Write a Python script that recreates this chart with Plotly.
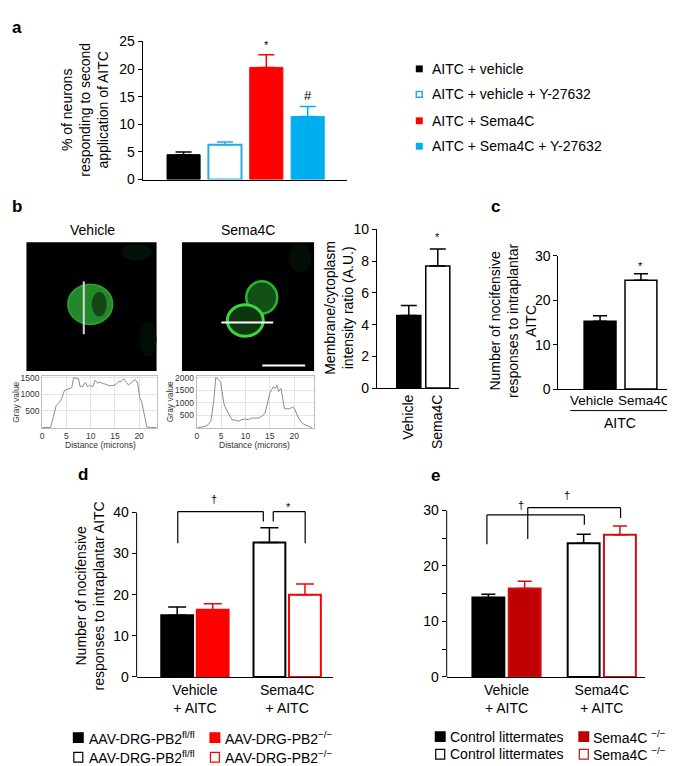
import plotly.graph_objects as go

W, H = 675, 766
FONT = "Liberation Sans, Arial, Helvetica, sans-serif"

# ---------------- data ----------------
# panel a
a_labels = ["AITC + vehicle", "AITC + vehicle + Y-27632", "AITC + Sema4C", "AITC + Sema4C + Y-27632"]
a_mean = [4.5, 6.3, 20.3, 11.4]
a_err = [0.5, 0.5, 2.3, 1.8]
a_fill = ["#000000", "#ffffff", "#ff0000", "#00aeef"]
a_edge = ["#000000", "#29abe2", "#ff0000", "#00aeef"]
a_sig = ["", "", "*", "#"]
a_sig_y = [0, 0, 24.4, 15.3]

# panel b
b_labels = ["Vehicle", "Sema4C"]
b_mean = [4.58, 7.7]
b_err = [0.62, 1.07]
b_sig_y = 9.55

prof_veh_x = [0, 1.7, 2.2, 2.9, 3.5, 3.9, 4.6, 5.1, 5.6, 6.1, 6.5, 7.0, 7.5, 7.8, 8.3, 8.9, 9.4, 9.8,
              10.4, 10.9, 11.4, 11.9, 12.5, 13.1, 13.8, 14.4, 15.1, 15.8, 16.3, 16.8, 17.3, 17.8,
              18.5, 19.2, 19.7, 20.1, 20.5, 21.1, 21.6, 22.6, 23.6]
prof_veh_y = [0, 0, 260, 670, 750, 830, 1117, 1140, 1157, 1198, 1500, 1483, 1467, 1239, 1222, 1361,
              1222, 1280, 1222, 1418, 1337, 1361, 1320, 1304, 1255, 1255, 1280, 1386, 1386, 1467,
              1361, 1280, 1361, 1443, 1337, 913, 790, 342, 16, 0, 0]
prof_sema_x = [0.2, 1.5, 2.2, 2.9, 3.5, 3.9, 4.4, 4.9, 5.2, 5.6, 6.0, 6.6, 7.2, 7.9, 8.6, 9.3, 9.9,
               10.6, 11.3, 11.9, 12.6, 13.3, 14.0, 14.5, 15.0, 15.7, 16.1, 16.5, 16.8, 17.3, 17.6,
               18.0, 18.5, 19.0, 19.7, 20.1, 20.6, 21.3, 22.0, 23.0, 23.7]
prof_sema_y = [10, 37, 99, 261, 1068, 2000, 1938, 1813, 1441, 944, 758, 509, 323, 298, 261, 323, 348,
               323, 385, 385, 385, 447, 571, 944, 1379, 1627, 1565, 1689, 1441, 1565, 1192, 758, 758,
               758, 820, 758, 509, 261, 137, 50, 0]

# panel c
c_labels = ["Vehicle", "Sema4C"]
c_mean = [15.3, 24.5]
c_err = [1.2, 1.5]
c_sig_y = 27.8

# panel d
d_cond = ["Vehicle<br>+ AITC", "Sema4C<br>+ AITC"]
d_flfl = [15.0, 32.7]
d_flfl_err = [2.0, 3.6]
d_ko = [16.35, 20.0]
d_ko_err = [1.45, 2.6]
d_brackets = [(-0.186, 32.5, 0.741, 37.8, 40.2), (0.849, 37.8, 1.195, 32.5, 40.2)]
d_marks = [("\u2020", 0.21, 43.2), ("*", 1.01, 41.3)]

# panel e
e_cond = ["Vehicle<br>+ AITC", "Sema4C<br>+ AITC"]
e_ctrl = [14.3, 24.1]
e_ctrl_err = [0.6, 1.6]
e_ko = [15.95, 25.6]
e_ko_err = [1.3, 1.6]
e_brackets = [(-0.206, 23.9, 0.817, 27.4, 29.2), (0.223, 24.85, 1.197, 28.65, 30.5)]
e_marks = [("\u2020", 0.147, 31.0), ("\u2020", 0.64, 32.7)]

# axis geometry (pixel positions of value 0 and px per unit) for d and e
D_ZERO, D_PPU, D_TOP = 675, 4.2, 45
E_ZERO, E_PPU, E_TOP = 675, 5.667, 34


# ---------------- helpers ----------------
def X(px):
    return px / W


def Y(py):
    return 1 - py / H


def xd(a, b):
    return [a / W, b / W]


def yd(top, bot):
    return [1 - bot / H, 1 - top / H]


fig = go.Figure()
shapes = []
ann = []
MARKFONT = dict(family=FONT, size=11, color="black")


def text(x, y, t, size=14, xa="center", ya="middle", angle=0, bold=False, color="black"):
    if bold:
        t = "<b>" + t + "</b>"
    ann.append(dict(x=X(x), y=Y(y), xref="paper", yref="paper", text=t, showarrow=False,
                    xanchor=xa, yanchor=ya, textangle=angle,
                    font=dict(family=FONT, size=size, color=color)))


def rect(x0, y0, x1, y1, fill, line=None, lw=1.2):
    shapes.append(dict(type="rect", xref="paper", yref="paper", x0=X(x0), x1=X(x1), y0=Y(y1), y1=Y(y0),
                       fillcolor=fill, line=dict(color=line or fill, width=lw if line else 0), layer="above"))


def ellipse(x0, y0, x1, y1, fill, line=None, lw=0):
    shapes.append(dict(type="circle", xref="paper", yref="paper", x0=X(x0), x1=X(x1), y0=Y(y1), y1=Y(y0),
                       fillcolor=fill, line=dict(color=line or fill, width=lw), layer="above"))


def pline(x0, y0, x1, y1, color="black", w=1):
    shapes.append(dict(type="line", xref="paper", yref="paper", x0=X(x0), x1=X(x1), y0=Y(y0), y1=Y(y1),
                       line=dict(color=color, width=w), layer="above"))


def err(arr, color, width, thick=1.5):
    return dict(type="data", array=arr, arrayminus=[0] * len(arr), symmetric=False,
                color=color, thickness=thick, width=width)


# ---------------- panel a ----------------
for i in range(4):
    fig.add_trace(go.Bar(x=[a_labels[i]], y=[a_mean[i]], xaxis="x", yaxis="y", width=0.8, offset=-0.4,
                         marker=dict(color=a_fill[i], line=dict(color=a_edge[i], width=2 if i == 1 else 1)),
                         error_y=err([a_err[i]], a_edge[i], 8), showlegend=False))
    if a_sig[i]:
        ann.append(dict(x=i, y=a_sig_y[i], xref="x", yref="y", text=a_sig[i], showarrow=False,
                        font=dict(family=FONT, size=11 if a_sig[i] == "*" else 13, color="black")))

# ---------------- panel b bar ----------------
fig.add_trace(go.Bar(x=b_labels, y=b_mean, xaxis="x2", yaxis="y2", width=0.83, offset=-0.415,
                     marker=dict(color=["#000000", "#ffffff"], line=dict(color="black", width=1.5)),
                     error_y=err(b_err, "black", 8), showlegend=False))
ann.append(dict(x=1, y=b_sig_y, xref="x2", yref="y2", text="*", showarrow=False, font=MARKFONT))

# profiles
fig.add_trace(go.Scatter(x=prof_veh_x, y=prof_veh_y, xaxis="x6", yaxis="y6", mode="lines",
                         line=dict(color="#8c8c8c", width=1), showlegend=False))
fig.add_trace(go.Scatter(x=prof_sema_x, y=prof_sema_y, xaxis="x7", yaxis="y7", mode="lines",
                         line=dict(color="#8c8c8c", width=1), showlegend=False))

# ---------------- panel c ----------------
fig.add_trace(go.Bar(x=c_labels, y=c_mean, xaxis="x3", yaxis="y3", width=0.78, offset=-0.39,
                     marker=dict(color=["#000000", "#ffffff"], line=dict(color="black", width=1.5)),
                     error_y=err(c_err, "black", 7), showlegend=False))
ann.append(dict(x=1, y=c_sig_y, xref="x3", yref="y3", text="*", showarrow=False, font=MARKFONT))

# ---------------- panel d ----------------
fig.add_trace(go.Bar(x=d_cond, y=d_flfl, xaxis="x4", yaxis="y4", width=0.345, offset=-0.365,
                     marker=dict(color=["#000000", "#ffffff"], line=dict(color="black", width=2)),
                     error_y=err(d_flfl_err, "black", 9), showlegend=False))
fig.add_trace(go.Bar(x=d_cond, y=d_ko, xaxis="x4", yaxis="y4", width=0.345, offset=0.02,
                     marker=dict(color=["#ff0000", "#ffffff"], line=dict(color="#ff0000", width=2)),
                     error_y=err(d_ko_err, "#ff0000", 9), showlegend=False))
for (xl, yl, xr, yr, yt) in d_brackets:
    for (a0, b0, a1, b1) in [(xl, yl, xl, yt), (xl, yt, xr, yt), (xr, yt, xr, yr)]:
        shapes.append(dict(type="line", xref="x4", yref="y4", x0=a0, y0=b0, x1=a1, y1=b1,
                           line=dict(color="black", width=1.2)))
for (t, xm, ym) in d_marks:
    ann.append(dict(x=xm, y=ym, xref="x4", yref="y4", text=t, showarrow=False, font=MARKFONT))

# ---------------- panel e ----------------
fig.add_trace(go.Bar(x=e_cond, y=e_ctrl, xaxis="x5", yaxis="y5", width=0.335, offset=-0.358,
                     marker=dict(color=["#000000", "#ffffff"], line=dict(color="black", width=2)),
                     error_y=err(e_ctrl_err, "black", 7), showlegend=False))
fig.add_trace(go.Bar(x=e_cond, y=e_ko, xaxis="x5", yaxis="y5", width=0.335, offset=0.023,
                     marker=dict(color=["#c00000", "#ffffff"], line=dict(color="#d01010", width=2)),
                     error_y=err(e_ko_err, "#d01010", 7), showlegend=False))
for (xl, yl, xr, yr, yt) in e_brackets:
    for (a0, b0, a1, b1) in [(xl, yl, xl, yt), (xl, yt, xr, yt), (xr, yt, xr, yr)]:
        shapes.append(dict(type="line", xref="x5", yref="y5", x0=a0, y0=b0, x1=a1, y1=b1,
                           line=dict(color="black", width=1.2)))
for (t, xm, ym) in e_marks:
    ann.append(dict(x=xm, y=ym, xref="x5", yref="y5", text=t, showarrow=False, font=MARKFONT))

# y-axis lines for d and e (stop at top tick)
pline(127, D_ZERO, 127, D_ZERO - 40 * D_PPU)
pline(438, E_ZERO, 438, E_ZERO - 30 * E_PPU)

# ---------------- microscopy panels (decoration) ----------------
rect(16.5, 231, 147, 362.5, "#000000")
rect(172.5, 231, 305, 362.5, "#000000")
ellipse(112, 233, 142, 250, "#031206")
ellipse(130, 312, 147, 348, "#020e04")
ellipse(280, 232, 302, 262, "#030f05")
# vehicle cell
ellipse(58, 274, 103, 315, "#23882a", "#2ea52e", 1.5)
ellipse(82, 282, 97, 307, "#14461a")
pline(74, 271, 74, 325, "#d8d8d8", 2)
# sema4c cells
ellipse(237, 271, 268, 304, "#125016", "#2cb532", 2.5)
ellipse(218, 295, 254, 327, "#0c360e", "#3dd43d", 3)
pline(212, 313, 264, 313, "#ffffff", 2)
pline(253, 357, 296, 357, "#ffffff", 2)

# ---------------- texts ----------------
text(0, 12, "a", 17, xa="left", bold=True)
text(0, 195, "b", 17, xa="left", bold=True)
text(480, 195, "c", 17, xa="left", bold=True)
text(66, 468, "d", 17, xa="left", bold=True)
text(420, 469, "e", 17, xa="left", bold=True)

text(75, 96, "% of neurons<br>responding to second<br>application of AITC", 14, angle=-90)
text(83, 219, "Vehicle", 14)
text(239, 219, "Sema4C", 14)
text(6, 394, "Gray value", 8.5, angle=-90, color="#333")
text(160, 394, "Gray value", 8.5, angle=-90, color="#333")
text(91, 438, "Distance (microns)", 8.5, color="#333")
text(245, 438, "Distance (microns)", 8.5, color="#333")
text(330, 298, "Membrane/cytoplasm<br>intensity ratio (A.U.)", 14, angle=-90)
text(505, 312, "Number of nocifensive<br>responses to intraplantar<br>AITC", 14, angle=-90)
text(584, 393, c_labels[0], 13.5)
text(636, 393, c_labels[1], 13.5)
pline(562, 403, 662, 403, "black", 1)
text(612, 416, "AITC", 14)
text(80, 592, "Number of nocifensive<br>responses to intraplantar AITC", 14, angle=-90)

# legend a
leg_a_rows = [54, 80, 107, 133]
for i, yy in enumerate(leg_a_rows):
    if i == 1:
        rect(407.5, yy - 3, 413.5, yy + 3, "#ffffff", a_edge[i], 1.5)
    else:
        rect(407, yy - 3.5, 414, yy + 3.5, a_fill[i])
    text(421, yy, a_labels[i], 14, xa="left")

# legend d
rect(63, 731.5, 74, 742.5, "#000000")
text(77, 737, "AAV-DRG-PB2<sup>fl/fl</sup>", 14, xa="left")
rect(200, 731.5, 211, 742.5, "#ff0000")
text(214, 737, "AAV-DRG-PB2<sup>\u2212/\u2212</sup>", 14, xa="left")
rect(64, 752, 73, 762, "#ffffff", "#000000", 1.2)
text(77, 757, "AAV-DRG-PB2<sup>fl/fl</sup>", 14, xa="left")
rect(201, 752, 210, 762, "#ffffff", "#ff0000", 1.2)
text(214, 757, "AAV-DRG-PB2<sup>\u2212/\u2212</sup>", 14, xa="left")

# legend e
rect(426, 730.5, 437, 741.5, "#000000")
text(439, 736, "Control littermates", 14, xa="left")
rect(570, 730.5, 581, 741.5, "#c00000")
text(583, 736, "Sema4C <sup>\u2212/\u2212</sup>", 14, xa="left")
rect(427, 749, 436, 759, "#ffffff", "#000000", 1.2)
text(439, 754, "Control littermates", 14, xa="left")
rect(571, 749, 580, 759, "#ffffff", "#d01010", 1.2)
text(583, 754, "Sema4C <sup>\u2212/\u2212</sup>", 14, xa="left")

# ---------------- axes ----------------
tf = dict(family=FONT, size=14, color="black")
ybase = dict(showline=True, linecolor="black", linewidth=1, ticks="outside", ticklen=4, tickwidth=1,
             tickcolor="black", showgrid=False, zeroline=False, tickfont=tf)
xbase = dict(showline=True, linecolor="black", linewidth=1, showgrid=False, zeroline=False, tickfont=tf)

pbase_x = dict(showline=True, mirror=True, linecolor="#bdbdbd", linewidth=1, showgrid=True,
               gridcolor="#e4e4e4", gridwidth=1, zeroline=False, ticks="", dtick=5, tick0=0,
               tickfont=dict(family=FONT, size=8.5, color="#333"))
pbase_y = dict(showline=True, mirror=True, linecolor="#bdbdbd", linewidth=1, showgrid=True,
               gridcolor="#e4e4e4", gridwidth=1, zeroline=False, ticks="",
               tickfont=dict(family=FONT, size=8.5, color="#333"))

fig.update_layout(
    width=W, height=H, margin=dict(l=0, r=0, t=0, b=0), autosize=False,
    paper_bgcolor="white", plot_bgcolor="rgba(0,0,0,0)", showlegend=False,
    font=dict(family=FONT, color="black"),
    xaxis=dict(xbase, domain=xd(133, 338), range=[-0.99, 3.95], anchor="y", showticklabels=False,
               ticks="", type="category", categoryorder="array", categoryarray=a_labels),
    yaxis=dict(ybase, domain=yd(26, 167), range=[0, 25], dtick=5, anchor="x"),
    xaxis2=dict(xbase, domain=xd(368, 450), range=[-1.1, 1.72], anchor="y2", ticks="",
                tickangle=-90, type="category"),
    yaxis2=dict(ybase, domain=yd(218, 380), range=[0, 10], dtick=2, anchor="x2"),
    xaxis3=dict(xbase, domain=xd(550, 673), range=[-1.02, 1.98], anchor="y3", ticks="", type="category",
                showticklabels=False),
    yaxis3=dict(ybase, domain=yd(245, 381), range=[0, 30], dtick=10, anchor="x3"),
    xaxis4=dict(xbase, domain=xd(127, 324), range=[-0.632, 1.497], anchor="y4", ticks="", type="category"),
    yaxis4=dict(ybase, domain=yd(D_ZERO - D_TOP * D_PPU, D_ZERO), range=[0, D_TOP], dtick=10,
                tickvals=[0, 10, 20, 30, 40], anchor="x4", showline=False),
    xaxis5=dict(xbase, domain=xd(438, 637), range=[-0.628, 1.455], anchor="y5", ticks="", type="category"),
    yaxis5=dict(ybase, domain=yd(E_ZERO - E_TOP * E_PPU, E_ZERO), range=[0, E_TOP],
                tickvals=[0, 10, 20, 30], anchor="x5", showline=False,
                minor=dict(tickvals=[5, 15, 25], ticks="outside", ticklen=4, tickcolor="black",
                           showgrid=False)),
    xaxis6=dict(pbase_x, domain=xd(32.3, 147), range=[0, 23.6], anchor="y6"),
    yaxis6=dict(pbase_y, domain=yd(368, 421), range=[-20, 1540], tickvals=[500, 1000, 1500], anchor="x6"),
    xaxis7=dict(pbase_x, domain=xd(187.3, 305), range=[0, 24.1], anchor="y7"),
    yaxis7=dict(pbase_y, domain=yd(368, 421), range=[-20, 2050], tickvals=[500, 1000, 1500, 2000],
                anchor="x7"),
    shapes=shapes,
    annotations=ann,
)

fig.write_html("out.html")
